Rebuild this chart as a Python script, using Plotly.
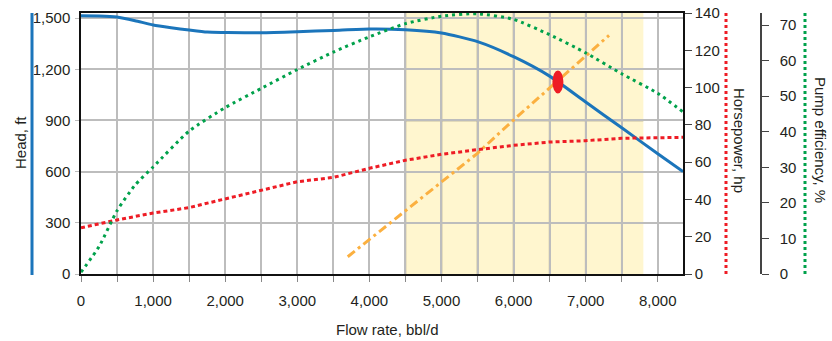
import plotly.graph_objects as go

# ---------------- data ----------------
flow_head = [0, 250, 500, 750, 1000, 1250, 1500, 1750, 2000, 2500, 3000, 3500,
             4000, 4500, 5000, 5500, 6000, 6500, 7000, 7500, 8000, 8350]
head_ft = [1514, 1513, 1506, 1485, 1460, 1444, 1430, 1418, 1416, 1414, 1420, 1428,
           1436, 1432, 1413, 1362, 1274, 1160, 1008, 857, 705, 600]

flow_hp = [0, 500, 1000, 1500, 1700, 2000, 2500, 3000, 3500, 4000, 4500, 5000,
           5500, 6000, 6500, 7000, 7500, 8000, 8350]
horsepower = [24.8, 29, 32.7, 35.6, 37.5, 40.2, 44.7, 49.5, 51.8, 56.7, 61, 64.2,
              66.7, 69, 70.8, 71.5, 72.8, 73.3, 73.3]

flow_eff = [0, 250, 500, 750, 1000, 1500, 2000, 2500, 3000, 3500, 4000, 4500,
            5000, 5500, 6000, 6500, 7000, 7500, 8000, 8350]
efficiency = [0.5, 7.7, 17.8, 25, 30.1, 40.2, 46.8, 52.2, 57.5, 62.4, 66.7, 70.4,
              72.5, 73.2, 71.6, 67.3, 62.2, 56.3, 50.8, 45.6]

flow_sys = [3700, 4486, 5000, 5495, 5995, 6514, 7324]
system_head = [101, 365, 537, 706, 901, 1096, 1399]

operating_point = [6615, 1126]          # flow, head
optimal_range = [4500, 7800]            # recommended operating range, bbl/d

head_ticks = [0, 300, 600, 900, 1200, 1500]
hp_ticks = [0, 20, 40, 60, 80, 100, 120, 140]
eff_ticks = [0, 10, 20, 30, 40, 50, 60, 70]
flow_ticks = [0, 1000, 2000, 3000, 4000, 5000, 6000, 7000, 8000]

# ---------------- style ----------------
FONT = "Liberation Sans Narrow, Arial Narrow, Liberation Sans, Arial, sans-serif"
FS = 15
BLUE = "#1b75bb"
RED = "#ee1c25"
GREEN = "#00a14b"
ORANGE = "#fbb040"
YELLOW = "#fff6cf"
GRID = "#bdbdbd"
GRID_DARK = "#8c887a"
TXT = "#231f20"

W, H = 832, 341
ML, MR, MT, MB = 81, 10, 13, 67
PW = W - ML - MR
PLOT_R = 683
xdom = (PLOT_R - ML) / PW


def px(p):
    return (p - ML) / PW


fig = go.Figure()

fig.add_trace(go.Scatter(x=flow_eff, y=efficiency, yaxis="y3", mode="lines",
                         line=dict(color=GREEN, width=3, dash="3px,4px", shape="spline",
                                   smoothing=0.6),
                         hoverinfo="skip", showlegend=False))
fig.add_trace(go.Scatter(x=flow_hp, y=horsepower, yaxis="y2", mode="lines",
                         line=dict(color=RED, width=3, dash="4px,3px"),
                         hoverinfo="skip", showlegend=False))
fig.add_trace(go.Scatter(x=flow_sys, y=system_head, yaxis="y", mode="lines",
                         line=dict(color=ORANGE, width=3, dash="9px,4px,3px,4px"),
                         hoverinfo="skip", showlegend=False))
fig.add_trace(go.Scatter(x=flow_head, y=head_ft, yaxis="y", mode="lines",
                         line=dict(color=BLUE, width=3, shape="spline", smoothing=0.6),
                         hoverinfo="skip", showlegend=False))

shapes = []
# shaded operating range (below grid)
shapes.append(dict(type="rect", xref="x", yref="paper", x0=optimal_range[0],
                   x1=optimal_range[1], y0=0, y1=1, fillcolor=YELLOW,
                   line=dict(width=0), layer="below"))
# darker grid inside the shaded range
for v in range(0, 8500, 500):
    if optimal_range[0] <= v <= optimal_range[1]:
        shapes.append(dict(type="line", xref="x", yref="paper", x0=v, x1=v, y0=0, y1=1,
                           line=dict(color=GRID_DARK, width=1.5), layer="below"))
for t in head_ticks[1:]:
    shapes.append(dict(type="line", xref="x", yref="y", x0=optimal_range[0],
                       x1=optimal_range[1], y0=t, y1=t,
                       line=dict(color=GRID_DARK, width=1.5), layer="below"))
# operating point ellipse
shapes.append(dict(type="circle", xref="x", yref="y", xsizemode="pixel", ysizemode="pixel",
                   xanchor=operating_point[0], yanchor=operating_point[1],
                   x0=-5.5, x1=5.5, y0=-11.5, y1=11.5,
                   fillcolor=RED, line=dict(width=0), layer="above"))
# axis colour keys
shapes.append(dict(type="line", xref="paper", yref="paper", x0=px(32), x1=px(32),
                   y0=-0.004, y1=1, line=dict(color=BLUE, width=3)))
shapes.append(dict(type="line", xref="paper", yref="paper", x0=px(726), x1=px(726),
                   y0=0, y1=1, line=dict(color=RED, width=3, dash="3px,3px")))
shapes.append(dict(type="line", xref="paper", yref="paper", x0=px(805), x1=px(805),
                   y0=0, y1=1, line=dict(color=GREEN, width=3, dash="3px,3px")))

ph = H - MT - MB


def py(p):
    return (H - MB - p) / ph


annotations = [
    dict(text="Head, ft", xref="paper", yref="paper", x=px(20), y=py(143), textangle=-90,
         showarrow=False, font=dict(family=FONT, size=FS, color=TXT),
         xanchor="center", yanchor="middle"),
    dict(text="Horsepower, hp", xref="paper", yref="paper", x=px(740), y=py(140),
         textangle=90, showarrow=False, font=dict(family=FONT, size=FS, color=TXT),
         xanchor="center", yanchor="middle"),
    dict(text="Pump efficiency, %", xref="paper", yref="paper", x=px(821), y=py(140),
         textangle=90, showarrow=False, font=dict(family=FONT, size=FS, color=TXT),
         xanchor="center", yanchor="middle"),
    dict(text="Flow rate, bbl/d", xref="paper", yref="paper", x=px(387), y=py(329),
         showarrow=False, font=dict(family=FONT, size=FS, color=TXT),
         xanchor="center", yanchor="middle"),
]

tickfont = dict(family=FONT, size=FS, color=TXT)

fig.update_layout(
    width=W, height=H,
    margin=dict(l=ML, r=MR, t=MT, b=MB, pad=0, autoexpand=False),
    paper_bgcolor="white", plot_bgcolor="white",
    showlegend=False,
    shapes=shapes, annotations=annotations,
    xaxis=dict(domain=[0, xdom], range=[0, 8350], tickvals=flow_ticks,
               tickformat=",", ticks="outside", ticklen=6, tickcolor="#888",
               tickfont=tickfont, ticklabelstandoff=6,
               showgrid=True, gridcolor=GRID, gridwidth=1.5,
               minor=dict(dtick=500, ticks="outside", ticklen=6, tickcolor="#888",
                          showgrid=True, gridcolor=GRID, gridwidth=1.5),
               showline=True, linecolor="#111", linewidth=1.5, mirror=True,
               zeroline=False, fixedrange=True),
    yaxis=dict(range=[0, 1530], tickvals=head_ticks, tickformat=",",
               ticks="outside", ticklen=4, tickcolor=GRID, tickfont=tickfont,
               ticklabelstandoff=2,
               showgrid=True, gridcolor=GRID, gridwidth=1.5,
               showline=True, linecolor="#111", linewidth=1.5,
               zeroline=False, fixedrange=True),
    yaxis2=dict(overlaying="y", side="right", anchor="x", range=[0, 140],
                tickvals=hp_ticks, ticks="outside", ticklen=7, tickcolor="#444",
                tickfont=tickfont, showgrid=False, zeroline=False,
                showline=True, linecolor="#111", linewidth=1.5, fixedrange=True),
    yaxis3=dict(overlaying="y", side="right", anchor="free", position=px(761),
                range=[0, 73.4], tickvals=eff_ticks, ticks="outside", ticklen=7,
                tickcolor="#444", tickfont=tickfont, ticklabelstandoff=8,
                showgrid=False, zeroline=False,
                showline=True, linecolor="#444", linewidth=1.5, fixedrange=True),
)

fig.write_html("out.html", config={"displayModeBar": False},
               post_script="document.body.style.margin='0';document.body.style.padding='0';")
